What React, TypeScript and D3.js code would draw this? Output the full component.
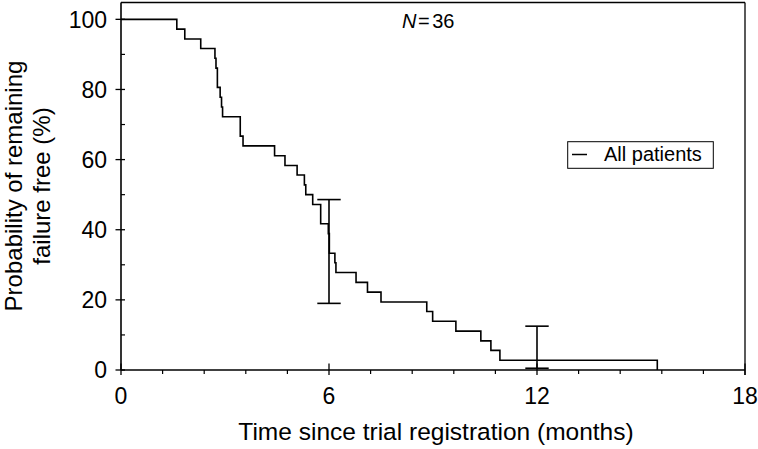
import React from "react";
import * as d3 from "d3";

const eventTimes = [0, 1.61, 1.84, 2.3, 2.71, 2.74, 2.78, 2.86, 2.9, 2.93, 3.44, 3.52, 4.43, 4.73, 5.08, 5.29, 5.33, 5.53, 5.76, 5.98, 6.01, 6.17, 6.2, 6.78, 7.11, 7.5, 8.82, 8.99, 9.66, 10.38, 10.67, 10.93, 15.47];
const survivalPct = [100, 97.2, 94.4, 91.7, 88.9, 86.1, 80.6, 77.8, 75.0, 72.2, 66.7, 63.9, 61.1, 58.3, 55.6, 52.8, 50.0, 47.2, 41.7, 38.9, 33.3, 30.6, 27.8, 25.0, 22.2, 19.4, 16.7, 13.9, 11.1, 8.3, 5.6, 2.8, 0];
const ciTimes = [6, 12];
const ciLower = [19.0, 0.5];
const ciUpper = [48.6, 12.5];
const xMajorTicks = [0, 6, 12, 18];
const xMinorTicks = [1.2, 2.4, 3.6, 4.8, 7.2, 8.4, 9.6, 10.8, 13.2, 14.4, 15.6, 16.8];
const yMajorTicks = [0, 20, 40, 60, 80, 100];
const yMinorTicks = [10, 30, 50, 70, 90];
const seriesName = "All patients";
const nLabel = "36";
const xTitle = "Time since trial registration (months)";
const yTitleLines = ["Probability of remaining", "failure free (%)"];

const W = 758;
const H = 449;
const left = 121;
const right = 745;
const top = 2.5;
const bottom = 370;
const FONT = "'Liberation Sans', Arial, Helvetica, sans-serif";

export default function App() {
  const x = d3.scaleLinear().domain([0, 18]).range([left, right]);
  const y = d3.scaleLinear().domain([0, 104.8]).range([bottom, top]);
  const pts: [number, number][] = eventTimes.map((t, i) => [t, survivalPct[i]]);
  const line = d3
    .line<[number, number]>()
    .x((d) => x(d[0]))
    .y((d) => y(d[1]))
    .curve(d3.curveStepAfter);
  const cap = 11.7;
  return (
    <svg
      width={W}
      height={H}
      style={{ position: "absolute", left: 0, top: 0, background: "#fff" }}
      fontFamily={FONT}
    >
      <rect x={0} y={0} width={W} height={H} fill="#fff" />
      {/* frame */}
      <line x1={left} x2={right} y1={top} y2={top} stroke="#000" strokeWidth={1.3} />
      <line x1={right} x2={right} y1={top} y2={bottom + 5} stroke="#000" strokeWidth={1.3} />
      <line x1={left} x2={right} y1={bottom} y2={bottom} stroke="#000" strokeWidth={1.6} />
      <line x1={left} x2={left} y1={top} y2={bottom} stroke="#000" strokeWidth={1.6} />
      {/* x ticks */}
      {xMajorTicks.map((t) => (
        <g key={"xm" + t}>
          <line x1={x(t)} x2={x(t)} y1={bottom - 6.5} y2={bottom + 5} stroke="#000" strokeWidth={1.3} />
          <text x={x(t)} y={404} textAnchor="middle" fontSize={23}>
            {t}
          </text>
        </g>
      ))}
      {xMinorTicks.map((t) => (
        <line key={"xn" + t} x1={x(t)} x2={x(t)} y1={bottom} y2={bottom + 4} stroke="#000" strokeWidth={1.2} />
      ))}
      {/* y ticks */}
      {yMajorTicks.map((v) => (
        <g key={"ym" + v}>
          <line x1={left - 5.5} x2={left + 4} y1={y(v)} y2={y(v)} stroke="#000" strokeWidth={1.3} />
          <text x={107} y={y(v) + 8.3} textAnchor="end" fontSize={23}>
            {v}
          </text>
        </g>
      ))}
      {yMinorTicks.map((v) => (
        <line key={"yn" + v} x1={left} x2={left + 4} y1={y(v)} y2={y(v)} stroke="#000" strokeWidth={1.2} />
      ))}
      {/* titles */}
      <text x={436} y={440} textAnchor="middle" fontSize={24.5}>
        {xTitle}
      </text>
      {yTitleLines.map((s, i) => (
        <text
          key={s}
          transform={`translate(${21.5 + i * 28.5},186) rotate(-90)`}
          textAnchor="middle"
          fontSize={24}
        >
          {s}
        </text>
      ))}
      {/* N label */}
      <text x={402} y={28} fontSize={20}>
        <tspan fontStyle="italic">N</tspan>
        <tspan dx={1.5}>=</tspan>
        <tspan dx={2.5}>{nLabel}</tspan>
      </text>
      {/* curve */}
      <path d={line(pts) ?? ""} fill="none" stroke="#000" strokeWidth={1.6} />
      {/* error bars */}
      {ciTimes.map((t, i) => (
        <g key={"ci" + t} stroke="#000" strokeWidth={1.6}>
          <line x1={x(t)} x2={x(t)} y1={y(ciLower[i])} y2={y(ciUpper[i])} />
          <line x1={x(t) - cap} x2={x(t) + cap} y1={y(ciLower[i])} y2={y(ciLower[i])} />
          <line x1={x(t) - cap} x2={x(t) + cap} y1={y(ciUpper[i])} y2={y(ciUpper[i])} />
        </g>
      ))}
      {/* legend */}
      <rect x={567.7} y={141.7} width={145.6} height={26.6} fill="#fff" stroke="#000" strokeWidth={1} />
      <line x1={572} x2={587} y1={154.5} y2={154.5} stroke="#000" strokeWidth={1.5} />
      <text x={604} y={161} fontSize={20}>
        {seriesName}
      </text>
    </svg>
  );
}
